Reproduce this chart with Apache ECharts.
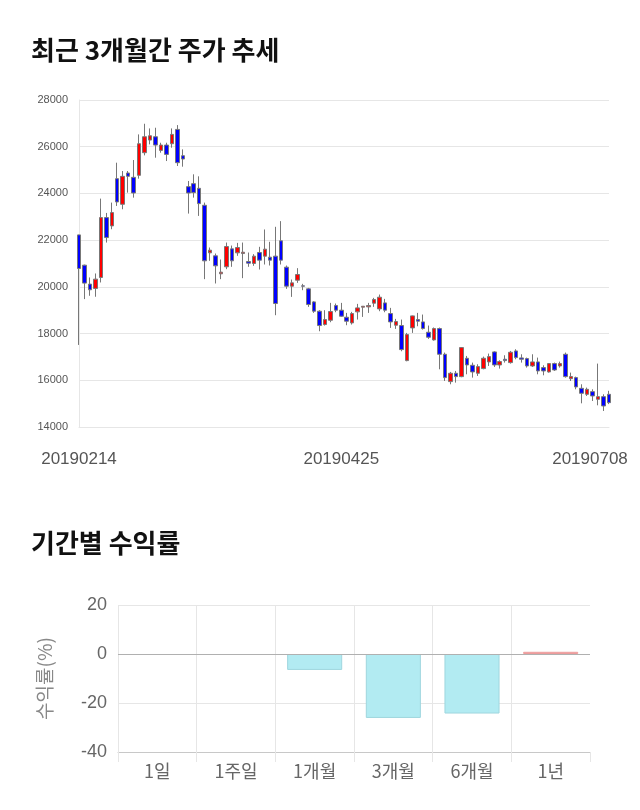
<!DOCTYPE html>
<html>
<head>
<meta charset="utf-8">
<script src="https://cdn.jsdelivr.net/npm/echarts@6/dist/echarts.min.js"></script>
<style>
html,body{margin:0;padding:0;background:#fff;}
#chart{width:640px;height:810px;}
</style>
</head>
<body>
<div id="chart"></div>
<script>
// ---- Price chart data (last ~3 months) ----
const dates = [
'20190214','20190215','20190218','20190219','20190220','20190221','20190222','20190225','20190226','20190227','20190228',
'20190304','20190305','20190306','20190307','20190308','20190311','20190312','20190313','20190314','20190315',
'20190318','20190319','20190320','20190321','20190322','20190325','20190326','20190327','20190328','20190329',
'20190401','20190402','20190403','20190404','20190405','20190408','20190409','20190410','20190411','20190412',
'20190415','20190416','20190417','20190418','20190419','20190422','20190423','20190425',
'20190426','20190429','20190430','20190502','20190503','20190507','20190508','20190509','20190510',
'20190513','20190514','20190515','20190516','20190517','20190520','20190521','20190522','20190523','20190524',
'20190527','20190528','20190529','20190530','20190531','20190603','20190604','20190605','20190607',
'20190610','20190611','20190612','20190613','20190614','20190617','20190618','20190619','20190620','20190621',
'20190624','20190625','20190626','20190627','20190628','20190701','20190702','20190703','20190704','20190705','20190708'
];
const openPrices = [
22225,20929,20117,19932,20402,22966,22610,24632,23536,24875,24689,24775,25744,26285,26427,25843,26071,26128,26741,25615,
24291,24419,24219,23493,21456,21328,20558,20858,21627,21456,21427,21085,21000,21471,21314,21271,21314,21971,20843,20029,
20286,20043,19914,19357,18957,18386,18571,19200,19000,18700,18457,18929,19129,19143,19300,19057,19314,18857,18357,18343,
16843,18243,18600,18500,18057,17729,18214,17114,15943,16300,16157,16943,16643,16300,16500,16786,17214,16657,16900,16757,
17257,16957,16929,16614,16786,16543,16357,16714,16614,17114,16071,16114,15657,15400,15514,15186,15300,15400
];
const closePrices = [
20786,20160,19875,20330,22966,22111,23179,23635,24732,24732,24020,26128,26427,26470,26071,26071,25672,26527,25316,25473,
24020,24034,23564,21114,21570,20900,20630,21726,21114,21684,21484,21014,21314,21143,21614,21143,19286,21143,20029,20171,
20529,20029,19243,18957,18343,18600,18943,19000,18743,18529,18857,19100,19171,19200,19457,19557,19000,18500,18514,17314,
17957,18757,18529,18214,17843,18214,17114,16114,16300,16157,17400,16657,16357,16586,16943,17014,16657,16800,16843,17200,
16971,16900,16614,16786,16400,16400,16714,16443,16714,16157,16157,15714,15443,15614,15329,15300,14900,15043
];
const lowPrices = [
17514,19476,19618,19576,20188,21897,22467,23464,23322,24034,23820,24632,25630,26100,25530,25744,25387,25957,25174,25145,
23137,23820,23037,20330,21114,20145,20330,20758,20858,21328,20373,20858,20900,20743,20957,20914,18786,20957,19914,19571,
20171,19857,19143,18886,18100,18343,18486,18914,18714,18357,18386,18600,18714,18886,19143,18957,18914,18243,18200,17243,
16814,18029,18314,18171,17771,17700,16471,15971,15829,15900,16130,16257,16114,16186,16471,16614,16571,16500,16757,16714,
16900,16757,16543,16571,16257,16214,16329,16400,16543,16114,15971,15614,15014,15329,15114,14929,14686,14980
];
const highPrices = [
22230,20950,20402,20573,23778,23165,23607,25316,24960,24960,25430,26527,26983,26783,26812,26170,26171,26783,26926,25886,
24533,24818,24732,23607,21684,21427,21171,21897,21769,21883,21897,21470,21400,21714,22457,21929,22571,22814,20914,20314,
20800,20129,19957,19386,19000,19000,19314,19286,19314,18886,18929,19271,19171,19314,19529,19671,19486,19100,18629,18600,
18029,18771,18886,18814,18343,18260,18257,17186,16357,16400,17420,17043,16757,16686,17014,17143,17243,16857,17071,17257,
17329,17114,16971,17114,16971,16643,16729,16757,16800,17186,16329,16157,15829,15686,15614,16714,15400,15550
];
const priceTicks = {min: 14000, max: 28000, step: 2000};
const labelIdx = [0, 48, 97];

// ---- Period returns ----
const periods = ['1일','1주일','1개월','3개월','6개월','1년'];
const returns = [0, 0, -6.5, -26.1, -24.3, 0.9];
const returnTicks = {min: -40, max: 20, step: 20};

const numFont = "'Liberation Sans', 'Noto Sans CJK KR', sans-serif";
const krFont = "'Noto Sans CJK KR', sans-serif";

const candleData = openPrices.map((o, i) => [o, closePrices[i], lowPrices[i], highPrices[i]]);

const chart = echarts.init(document.getElementById('chart'), null, {renderer: 'canvas'});
chart.setOption({
  animation: false,
  backgroundColor: '#fff',
  title: [
    {text: '최근 3개월간 주가 추세', left: 31, top: 37, padding: 0,
     textStyle: {fontFamily: krFont, fontSize: 26, fontWeight: 'bold', color: '#111'}},
    {text: '기간별 수익률', left: 31, top: 530, padding: 0,
     textStyle: {fontFamily: krFont, fontSize: 26, fontWeight: 'bold', color: '#111'}}
  ],
  grid: [
    {left: 79, right: 31, top: 100, height: 327},
    {left: 118, right: 50, top: 605, height: 147}
  ],
  xAxis: [
    {
      type: 'category', gridIndex: 0, data: dates, boundaryGap: false,
      axisLine: {show: true, lineStyle: {color: '#e6e6e6'}},
      axisTick: {show: false},
      splitLine: {show: false},
      axisLabel: {
        interval: (idx) => labelIdx.indexOf(idx) >= 0,
        margin: 24, fontSize: 17, color: '#555', fontFamily: numFont,
        formatter: (v, idx) => idx === labelIdx[2] ? '{r|' + v + '}' : v,
        rich: {r: {fontSize: 17, color: '#555', fontFamily: numFont, padding: [0, 38, 0, 0]}}
      }
    },
    {
      type: 'category', gridIndex: 1, data: periods,
      axisLine: {show: true, onZero: false, lineStyle: {color: '#c8c8c8'}},
      axisTick: {show: true, length: 10, interval: 0, lineStyle: {color: '#e6e6e6'}},
      splitLine: {show: true, interval: 0, showMaxLine: false, lineStyle: {color: '#e6e6e6'}},
      axisLabel: {margin: 10, fontSize: 18, color: '#666', fontFamily: krFont}
    }
  ],
  yAxis: [
    {
      type: 'value', gridIndex: 0, min: priceTicks.min, max: priceTicks.max, interval: priceTicks.step,
      axisLine: {show: true, lineStyle: {color: '#e6e6e6'}},
      axisTick: {show: false},
      splitLine: {show: true, lineStyle: {color: '#e6e6e6'}},
      axisLabel: {margin: 11, fontSize: 11, color: '#555', fontFamily: numFont, formatter: (v) => String(v)}
    },
    {
      type: 'value', gridIndex: 1, min: returnTicks.min, max: returnTicks.max, interval: returnTicks.step,
      name: '수익률(%)', nameLocation: 'middle', nameRotate: 90, nameGap: 64,
      nameTextStyle: {fontSize: 19, color: '#888', fontFamily: krFont},
      axisLine: {show: false},
      axisTick: {show: false},
      splitLine: {show: true, lineStyle: {color: '#e6e6e6'}},
      axisLabel: {margin: 11, fontSize: 18, color: '#666', fontFamily: numFont}
    }
  ],
  series: [
    {
      type: 'candlestick', xAxisIndex: 0, yAxisIndex: 0, data: candleData, barWidth: 4,
      itemStyle: {color: '#ff0000', color0: '#0000ff', borderColor: '#777', borderColor0: '#777', borderWidth: 1}
    },
    {
      type: 'bar', xAxisIndex: 1, yAxisIndex: 1, barWidth: '70%',
      data: returns.map(v => ({
        value: v,
        itemStyle: v === 0
          ? {color: 'rgba(0,0,0,0)', borderWidth: 0}
          : v > 0
            ? {color: '#f7b3b3', borderColor: '#ec9c9c', borderWidth: 1}
            : {color: '#b2ebf2', borderColor: '#9fd6de', borderWidth: 1}
      })),
      markLine: {
        silent: true, symbol: 'none', label: {show: false},
        lineStyle: {color: '#b0b0b0', type: 'solid', width: 1},
        data: [{yAxis: 0}]
      }
    }
  ]
});
</script>
</body>
</html>
